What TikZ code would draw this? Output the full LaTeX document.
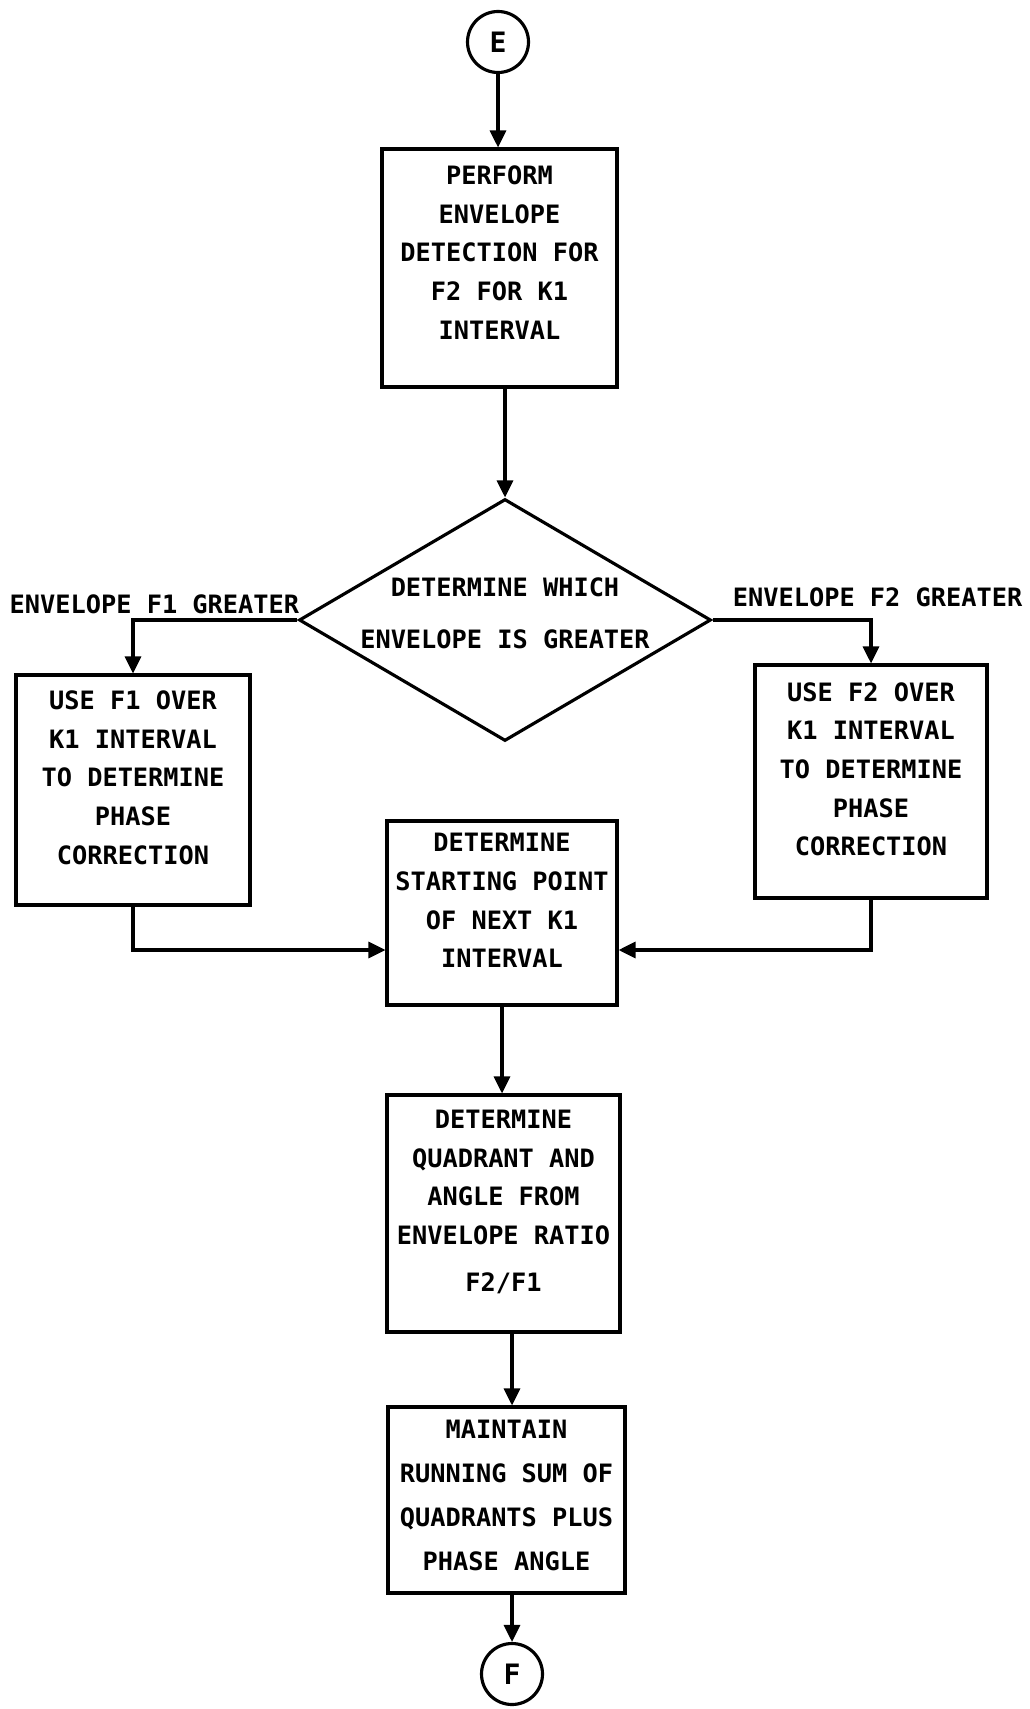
\documentclass[tikz,border=0pt]{standalone}
\usepackage{fontspec}
\newfontfamily\chartfont{DejaVu Sans Mono}
\usetikzlibrary{shapes.geometric,arrows.meta,calc}
\tikzset{
    every node/.style={font=\chartfont\bfseries\fontsize{14.4}{22}\selectfont},
    stepbox/.style={draw, line width=1.8pt, align=center, inner sep=0pt, text depth=0.5cm},
    decision/.style={draw, diamond, aspect=1.7, line width=1.8pt, align=center, inner sep=-0.2cm,
        text depth=0.28cm, font=\chartfont\bfseries\fontsize{14.4}{30}\selectfont},
    connector/.style={draw, circle, line width=1.8pt, inner sep=0pt, minimum size=1.22cm,
        font=\chartfont\bfseries\fontsize{16}{18}\selectfont},
    branch/.style={inner sep=0pt},
    flow/.style={line width=1.8pt, -{Triangle[length=0.34cm,width=0.32cm]}},
}
\begin{document}
\begin{tikzpicture}[x=0.02cm, y=-0.02cm]
            \useasboundingbox (0,0) rectangle (1030,1709);
            % entry and exit connectors
            \node[connector] (E) at (498,42) {E};
            \node[connector] (F) at (512,1674) {F};
            % process boxes
            \node[stepbox, text depth=0.62cm, minimum width=4.7cm, minimum height=4.76cm] (detect) at (499.5,268)
                {PERFORM\\ENVELOPE\\DETECTION FOR\\F2 FOR K1\\INTERVAL};
            \node[decision, minimum width=8.24cm, minimum height=4.84cm] (which) at (505,620)
                {DETERMINE WHICH\\ENVELOPE IS GREATER};
            \node[stepbox, minimum width=4.68cm, minimum height=4.6cm] (useF1) at (133,790)
                {USE F1 OVER\\K1 INTERVAL\\TO DETERMINE\\PHASE\\CORRECTION};
            \node[stepbox, minimum width=4.64cm, minimum height=4.66cm] (useF2) at (871,781.5)
                {USE F2 OVER\\K1 INTERVAL\\TO DETERMINE\\PHASE\\CORRECTION};
            \node[stepbox, minimum width=4.6cm, minimum height=3.68cm] (start) at (502,913)
                {DETERMINE\\STARTING POINT\\OF NEXT K1\\INTERVAL};
            \node[stepbox, minimum width=4.66cm, minimum height=4.74cm] (quad) at (503.5,1213.5)
                {DETERMINE\\QUADRANT AND\\ANGLE FROM\\ENVELOPE RATIO\\[5pt]F2/F1};
            \node[stepbox, text depth=0.2cm, minimum width=4.74cm, minimum height=3.72cm,
                font=\chartfont\bfseries\fontsize{14.4}{25}\selectfont] (sum) at (506.5,1500)
                {MAINTAIN\\RUNNING SUM OF\\QUADRANTS PLUS\\PHASE ANGLE};
            % branch labels
            \node[branch, anchor=base east] (lblF1) at ($(which.west)+(2,-7)$) {ENVELOPE F1 GREATER};
            \node[branch, anchor=base west] (lblF2) at ($(which.east)+(20,-14)$) {ENVELOPE F2 GREATER};
            % flow lines
            \draw[flow] (E.south) -- (E.south |- detect.north);
            \draw[flow] (which.north |- detect.south) -- (which.north);
            \draw[flow] (which.west) -| (useF1.north);
            \draw[flow] (which.east) -| (useF2.north);
            \draw[flow] (useF1.south) |- ([yshift=-0.74cm]start.west);
            \draw[flow] (useF2.south) |- ([yshift=-0.74cm]start.east);
            \draw[flow] (start.south) -- (start.south |- quad.north);
            \draw[flow] (quad.south -| F) -- (sum.north -| F);
            \draw[flow] (sum.south -| F) -- (F);
\end{tikzpicture}
\end{document}
